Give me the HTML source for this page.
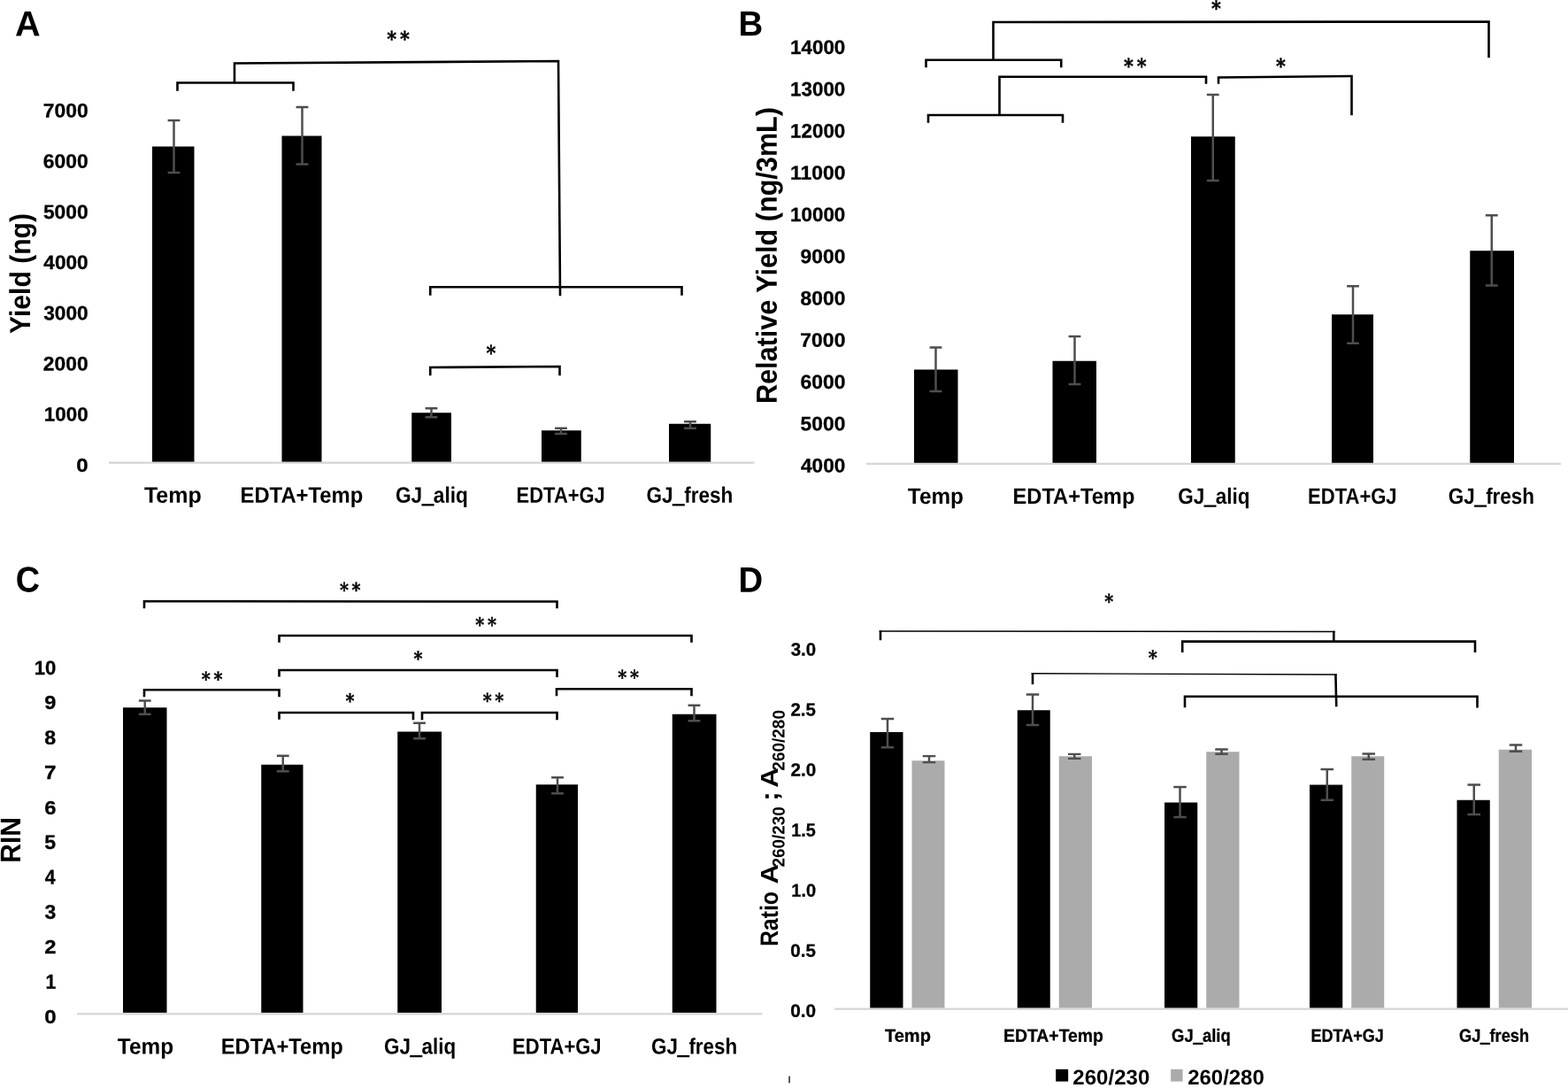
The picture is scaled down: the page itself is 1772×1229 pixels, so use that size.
<!DOCTYPE html>
<html lang="en">
<head>
<meta charset="utf-8">
<title>Figure: RNA yield, relative yield, RIN and absorbance ratios</title>
<style>
html,body{margin:0;padding:0;background:#fff}
body{width:1772px;height:1229px;overflow:hidden}
svg{display:block}
text{fill:#000;white-space:pre}
.b{font-family:"Liberation Sans",sans-serif;font-weight:bold}
.u{stroke:#000;stroke-width:1.3}
.d{font-family:"Liberation Sans",sans-serif;font-weight:bold;stroke:#000;stroke-width:0.3;stroke-linejoin:round}
.s{font-family:"DejaVu Serif","DejaVu Sans",serif;font-weight:bold;stroke:#000;stroke-width:0.45;stroke-linejoin:round}
.k{fill:none;stroke:#000;stroke-width:2.6;stroke-linejoin:miter;stroke-linecap:butt}
.kt{fill:none;stroke:#000;stroke-width:1.4;stroke-linejoin:miter;stroke-linecap:butt}
.e{fill:none;stroke:#4e4e4e;stroke-width:2.3;stroke-linecap:butt}
.v{fill:none;stroke:#4e4e4e;stroke-width:2.5;stroke-linecap:butt}
</style>
</head>
<body>
<svg width="1772" height="1229" viewBox="0 0 1772 1229" role="img" aria-label="Four-panel bar chart figure">
<rect width="1772" height="1229" fill="#fff"/>
<g id="bars">
<rect x="123" y="521.55" width="729.5" height="2.3" fill="#d6d6d6"/>
<rect x="172" y="165.5" width="47.5" height="356.1" fill="#000"/>
<rect x="318.5" y="153.5" width="45" height="368.1" fill="#000"/>
<rect x="465.25" y="466.25" width="44.75" height="55.35" fill="#000"/>
<rect x="612" y="486.25" width="44.75" height="35.35" fill="#000"/>
<rect x="756" y="478.75" width="47.25" height="42.85" fill="#000"/>
<rect x="979" y="522.75" width="785" height="2.3" fill="#d6d6d6"/>
<rect x="1033" y="417.5" width="49.5" height="105.3" fill="#000"/>
<rect x="1189.5" y="407.75" width="49.5" height="115.05" fill="#000"/>
<rect x="1346" y="154.25" width="49.75" height="368.55" fill="#000"/>
<rect x="1505" y="355.25" width="47" height="167.55" fill="#000"/>
<rect x="1661.25" y="283.25" width="49.75" height="239.55" fill="#000"/>
<rect x="87" y="1144.15" width="774.5" height="2.3" fill="#d6d6d6"/>
<rect x="139" y="799.25" width="49.5" height="344.65" fill="#000"/>
<rect x="295.25" y="863.75" width="47.25" height="280.15" fill="#000"/>
<rect x="449.25" y="826.5" width="49.75" height="317.4" fill="#000"/>
<rect x="605.75" y="886.25" width="47.25" height="257.65" fill="#000"/>
<rect x="759.75" y="806.75" width="49.75" height="337.15" fill="#000"/>
<rect x="943" y="1138.55" width="829" height="2.3" fill="#d6d6d6"/>
<rect x="983.25" y="827" width="37.25" height="311.5" fill="#000"/>
<rect x="1030.5" y="859.25" width="37" height="279.25" fill="#ababab"/>
<rect x="1149.75" y="802.25" width="37" height="336.25" fill="#000"/>
<rect x="1196.75" y="854.25" width="37.25" height="284.25" fill="#ababab"/>
<rect x="1316" y="906.5" width="37.25" height="232" fill="#000"/>
<rect x="1363.25" y="849.25" width="37.25" height="289.25" fill="#ababab"/>
<rect x="1480" y="886.5" width="37.25" height="252" fill="#000"/>
<rect x="1527.25" y="854.25" width="37" height="284.25" fill="#ababab"/>
<rect x="1646.5" y="903.75" width="37.25" height="234.75" fill="#000"/>
<rect x="1693.75" y="846.75" width="37.25" height="291.75" fill="#ababab"/>
<rect x="1193.2" y="1207.8" width="13.95" height="13.8" fill="#000"/>
<rect x="1323.1" y="1207.8" width="13.5" height="13.8" fill="#ababab"/>
<rect x="891.4" y="1215.6" width="1.3" height="7.8" fill="#000"/>
</g>
<g id="marks">
<path class="e" d="M189.6 136H203.4M189.6 195H203.4"/><path class="v" d="M196.5 136V195"/>
<path class="e" d="M334.6 121H348.4M334.6 185.5H348.4"/><path class="v" d="M341.5 121V185.5"/>
<path class="e" d="M480.6 461.25H494.4M480.6 471.25H494.4"/><path class="v" d="M487.5 461.25V471.25"/>
<path class="e" d="M627.1 483.75H640.9M627.1 490H640.9"/><path class="v" d="M634 483.75V490"/>
<path class="e" d="M773.1 476.25H786.9M773.1 483.75H786.9"/><path class="v" d="M780 476.25V483.75"/>
<path class="k" d="M200.5 102.7L200.5 93.5L331.5 93.5L331.5 102.7"/>
<path class="k" d="M265 94.2L265 71.5L631 69L633.01 334.2"/>
<path class="k" d="M486.25 333.7L486.25 324.25L770.5 324.25L770.5 333.7"/>
<path class="k" d="M486.25 424.2L486.25 415L632.5 414L632.5 424.2"/>
<path class="e" d="M1050.6 392.5H1064.4M1050.6 442H1064.4"/><path class="v" d="M1057.5 392.5V442"/>
<path class="e" d="M1207.6 380H1221.4M1207.6 434H1221.4"/><path class="v" d="M1214.5 380V434"/>
<path class="e" d="M1363.85 107H1377.65M1363.85 204H1377.65"/><path class="v" d="M1370.75 107V204"/>
<path class="e" d="M1522.1 323.25H1535.9M1522.1 387.75H1535.9"/><path class="v" d="M1529 323.25V387.75"/>
<path class="e" d="M1678.85 243.25H1692.65M1678.85 322.5H1692.65"/><path class="v" d="M1685.75 243.25V322.5"/>
<path class="k" d="M1046.5 76.2L1046.5 67.75L1199.25 67.75L1199.25 76.2"/>
<path class="k" d="M1122.5 68.45L1122.5 25L1682.5 24.5L1682.5 65.2"/>
<path class="k" d="M1049 138.7L1049 130L1201 130L1201 138.7"/>
<path class="k" d="M1129.5 130.7L1129.5 86.75L1363 86.75L1363 94.7"/>
<path class="k" d="M1377 94.7L1377 87.5L1527.5 86L1527.5 130.2"/>
<path class="e" d="M156.85 791.5H170.65M156.85 806.75H170.65"/><path class="v" d="M163.75 791.5V806.75"/>
<path class="e" d="M312.85 853.75H326.65M312.85 871.25H326.65"/><path class="v" d="M319.75 853.75V871.25"/>
<path class="e" d="M467.1 816.75H480.9M467.1 834.25H480.9"/><path class="v" d="M474 816.75V834.25"/>
<path class="e" d="M623.1 878.25H636.9M623.1 896.25H636.9"/><path class="v" d="M630 878.25V896.25"/>
<path class="e" d="M777.6 796.75H791.4M777.6 814.25H791.4"/><path class="v" d="M784.5 796.75V814.25"/>
<path class="k" d="M163 687.2L163 679.25L629.5 679.5L629.5 687.2"/>
<path class="k" d="M315.5 725.7L315.5 718L781.5 718L781.5 725.7"/>
<path class="k" d="M315.5 764.45L315.5 757L629.5 757L629.5 764.95"/>
<path class="k" d="M163 787.2L163 779.25L315.5 779.25L315.5 787.2"/>
<path class="k" d="M315.5 812.7L315.5 805L467 805L467 813.2"/>
<path class="k" d="M477 813.2L477 805L629.5 805L629.5 813.2"/>
<path class="k" d="M629 786.2L629 778.25L781.5 778.25L781.5 786.2"/>
<path class="e" d="M995.75 812H1010.25M995.75 844.25H1010.25"/><path class="v" d="M1003 812V844.25"/>
<path class="e" d="M1042.75 854.2H1057.25M1042.75 861.1H1057.25"/><path class="v" d="M1050 854.2V861.1"/>
<path class="e" d="M1159.75 784.5H1174.25M1159.75 819H1174.25"/><path class="v" d="M1167 784.5V819"/>
<path class="e" d="M1207 851.9H1221.5M1207 856.9H1221.5"/><path class="v" d="M1214.25 851.9V856.9"/>
<path class="e" d="M1326.25 889H1340.75M1326.25 923H1340.75"/><path class="v" d="M1333.5 889V923"/>
<path class="e" d="M1373.25 846.5H1387.75M1373.25 851.75H1387.75"/><path class="v" d="M1380.5 846.5V851.75"/>
<path class="e" d="M1492.5 869H1507M1492.5 903.75H1507"/><path class="v" d="M1499.75 869V903.75"/>
<path class="e" d="M1539.5 851.5H1554M1539.5 857.75H1554"/><path class="v" d="M1546.75 851.5V857.75"/>
<path class="e" d="M1658.5 886.5H1673M1658.5 920H1673"/><path class="v" d="M1665.75 886.5V920"/>
<path class="e" d="M1705.75 841.5H1720.25M1705.75 848.75H1720.25"/><path class="v" d="M1713 841.5V848.75"/>
<path class="k" d="M995 723.2L995 712.3"/>
<path class="kt" d="M993.7 713L1508.6 713.5"/>
<path class="k" d="M1507.3 712.8L1507.3 725"/>
<path class="k" d="M1336.2 737L1336.2 724.6L1667 724.6L1667 736.95"/>
<path class="k" d="M1167 773.1L1167 760.1"/>
<path class="kt" d="M1165.7 760.8L1510.7 762"/>
<path class="k" d="M1509.38 761.3L1510.27 798.2"/>
<path class="k" d="M1339 799.2L1339 786.7L1669.5 786.7L1669.5 799.45"/>
</g>
<g id="labels">
<text class="b" font-size="39.85" transform="matrix(0.9962 0.0005 0 1 17.11 40.4)">A</text>
<text class="d" font-size="22.33" transform="matrix(1.0274 0.0005 0 1 48.67 132.58)">7000</text>
<text class="d" font-size="22.33" transform="matrix(1.0250 0.0005 0 1 48.79 189.75)">6000</text>
<text class="d" font-size="22.33" transform="matrix(1.0226 0.0005 0 1 48.91 246.92)">5000</text>
<text class="d" font-size="22.33" transform="matrix(1.0144 0.0005 0 1 49.31 304.09)">4000</text>
<text class="d" font-size="22.33" transform="matrix(1.0179 0.0005 0 1 49.14 361.26)">3000</text>
<text class="d" font-size="22.33" transform="matrix(1.0238 0.0005 0 1 48.85 418.43)">2000</text>
<text class="d" font-size="22.33" transform="matrix(1.0033 0.0005 0 1 49.85 475.61)">1000</text>
<text class="d" font-size="22.33" transform="matrix(1.0794 0.0005 0 1 86.34 532.78)">0</text>
<text class="b" font-size="25.22" transform="matrix(0.9920 0.0005 0 1 162.95 567.7)">Temp</text>
<text class="b" font-size="25.22" transform="matrix(0.9458 0.0005 0 1 271.49 567.7)">EDTA+Temp</text>
<text class="b" font-size="25.22" transform="matrix(0.9006 0.0005 0 1 446.89 567.7)">GJ<tspan class="u">_</tspan>aliq</text>
<text class="b" font-size="25.22" transform="matrix(0.8710 0.0005 0 1 583.62 567.7)">EDTA+GJ</text>
<text class="b" font-size="25.22" transform="matrix(0.8948 0.0005 0 1 730.5 567.7)">GJ<tspan class="u">_</tspan>fresh</text>
<text class="b" font-size="32.75" transform="matrix(0.0005 -0.9200 1 0 34.1 377.03)">Yield (ng)</text>
<text class="s" font-size="23.12" transform="matrix(0.9014 0.0005 0 1 437.26 52.04)">*</text>
<text class="s" font-size="23.12" transform="matrix(0.9014 0.0005 0 1 452.06 52.04)">*</text>
<text class="s" font-size="23.12" transform="matrix(0.9014 0.0005 0 1 549.56 406.79)">*</text>
<text class="b" font-size="39.56" transform="matrix(0.9717 0.0005 0 1 834.56 40.2)">B</text>
<text class="d" font-size="22.33" transform="matrix(1.0043 0.0005 0 1 893 61.08)">14000</text>
<text class="d" font-size="22.33" transform="matrix(1.0043 0.0005 0 1 893 108.33)">13000</text>
<text class="d" font-size="22.33" transform="matrix(1.0043 0.0005 0 1 893 155.58)">12000</text>
<text class="d" font-size="22.33" transform="matrix(1.0253 0.0005 0 1 892.97 202.83)">11000</text>
<text class="d" font-size="22.33" transform="matrix(1.0043 0.0005 0 1 893 250.08)">10000</text>
<text class="d" font-size="22.33" transform="matrix(1.0238 0.0005 0 1 904.55 297.33)">9000</text>
<text class="d" font-size="22.33" transform="matrix(1.0226 0.0005 0 1 904.61 344.58)">8000</text>
<text class="d" font-size="22.33" transform="matrix(1.0274 0.0005 0 1 904.37 391.83)">7000</text>
<text class="d" font-size="22.33" transform="matrix(1.0250 0.0005 0 1 904.49 439.08)">6000</text>
<text class="d" font-size="22.33" transform="matrix(1.0226 0.0005 0 1 904.61 486.33)">5000</text>
<text class="d" font-size="22.33" transform="matrix(1.0144 0.0005 0 1 905.01 533.58)">4000</text>
<text class="b" font-size="25.22" transform="matrix(0.9639 0.0005 0 1 1025.86 569)">Temp</text>
<text class="b" font-size="25.22" transform="matrix(0.9388 0.0005 0 1 1144.5 569)">EDTA+Temp</text>
<text class="b" font-size="25.22" transform="matrix(0.8915 0.0005 0 1 1331.2 569)">GJ<tspan class="u">_</tspan>aliq</text>
<text class="b" font-size="25.22" transform="matrix(0.8732 0.0005 0 1 1478.11 569)">EDTA+GJ</text>
<text class="b" font-size="25.22" transform="matrix(0.8905 0.0005 0 1 1636.7 569)">GJ<tspan class="u">_</tspan>fresh</text>
<text class="b" font-size="32.9" transform="matrix(0.0005 -0.9307 1 0 877.7 456.07)">Relative Yield (ng/3mL)</text>
<text class="s" font-size="23.12" transform="matrix(0.9014 0.0005 0 1 1369.06 17.49)">*</text>
<text class="s" font-size="23.12" transform="matrix(0.9014 0.0005 0 1 1269.91 82.79)">*</text>
<text class="s" font-size="23.12" transform="matrix(0.9014 0.0005 0 1 1284.71 82.79)">*</text>
<text class="s" font-size="23.12" transform="matrix(0.9014 0.0005 0 1 1442.06 82.79)">*</text>
<text class="b" font-size="40.57" transform="matrix(0.9334 0.0005 0 1 17.69 668.39)">C</text>
<text class="d" font-size="22.33" transform="matrix(0.9931 0.0005 0 1 38.76 761.98)">10</text>
<text class="d" font-size="22.33" transform="matrix(1.0571 0.0005 0 1 50.27 801.37)">9</text>
<text class="d" font-size="22.33" transform="matrix(1.0410 0.0005 0 1 50.34 840.76)">8</text>
<text class="d" font-size="22.98" transform="matrix(1.0600 0.0005 0 1 50.06 880.37)">7</text>
<text class="d" font-size="22.33" transform="matrix(1.0626 0.0005 0 1 50.21 919.54)">6</text>
<text class="d" font-size="22.65" transform="matrix(1.0211 0.0005 0 1 50.35 958.92)">5</text>
<text class="d" font-size="22.98" transform="matrix(0.9313 0.0005 0 1 50.78 998.54)">4</text>
<text class="d" font-size="22.33" transform="matrix(1.0306 0.0005 0 1 50.58 1037.71)">3</text>
<text class="d" font-size="22.65" transform="matrix(1.0531 0.0005 0 1 50.27 1077.32)">2</text>
<text class="d" font-size="22.98" transform="matrix(0.9217 0.0005 0 1 51.38 1116.71)">1</text>
<text class="d" font-size="22.33" transform="matrix(1.0794 0.0005 0 1 50.14 1155.88)">0</text>
<text class="b" font-size="25.22" transform="matrix(0.9670 0.0005 0 1 132.86 1190.4)">Temp</text>
<text class="b" font-size="25.22" transform="matrix(0.9406 0.0005 0 1 249.75 1190.4)">EDTA+Temp</text>
<text class="b" font-size="25.22" transform="matrix(0.8915 0.0005 0 1 433.95 1190.4)">GJ<tspan class="u">_</tspan>aliq</text>
<text class="b" font-size="25.22" transform="matrix(0.8732 0.0005 0 1 579.11 1190.4)">EDTA+GJ</text>
<text class="b" font-size="25.22" transform="matrix(0.8905 0.0005 0 1 735.95 1190.4)">GJ<tspan class="u">_</tspan>fresh</text>
<text class="b" font-size="32.25" transform="matrix(0.0005 -0.9338 1 0 22.9 974.83)">RIN</text>
<text class="s" font-size="21.83" transform="matrix(0.8779 0.0005 0 1 383.94 673.88)">*</text>
<text class="s" font-size="21.83" transform="matrix(0.8779 0.0005 0 1 397.54 673.88)">*</text>
<text class="s" font-size="21.83" transform="matrix(0.8779 0.0005 0 1 537.32 713.26)">*</text>
<text class="s" font-size="21.83" transform="matrix(0.8779 0.0005 0 1 550.92 713.26)">*</text>
<text class="s" font-size="21.83" transform="matrix(0.8779 0.0005 0 1 467.49 751.38)">*</text>
<text class="s" font-size="21.83" transform="matrix(0.8779 0.0005 0 1 227.82 774.76)">*</text>
<text class="s" font-size="21.83" transform="matrix(0.8779 0.0005 0 1 241.42 774.76)">*</text>
<text class="s" font-size="21.83" transform="matrix(0.8779 0.0005 0 1 390.49 799.26)">*</text>
<text class="s" font-size="21.83" transform="matrix(0.8779 0.0005 0 1 545.69 799.01)">*</text>
<text class="s" font-size="21.83" transform="matrix(0.8779 0.0005 0 1 559.29 799.01)">*</text>
<text class="s" font-size="21.83" transform="matrix(0.8779 0.0005 0 1 698.32 772.76)">*</text>
<text class="s" font-size="21.83" transform="matrix(0.8779 0.0005 0 1 711.92 772.76)">*</text>
<text class="b" font-size="40.29" transform="matrix(0.9502 0.0005 0 1 834.57 668.7)">D</text>
<text class="d" font-size="20.49" transform="matrix(0.9998 0.0005 0 1 893.69 740.55)">3.0</text>
<text class="d" font-size="20.49" transform="matrix(0.9998 0.0005 0 1 893.43 808.58)">2.5</text>
<text class="d" font-size="20.49" transform="matrix(1.0093 0.0005 0 1 893.43 876.61)">2.0</text>
<text class="d" font-size="20.79" transform="matrix(0.9547 0.0005 0 1 894.31 944.64)">1.5</text>
<text class="d" font-size="20.49" transform="matrix(0.9778 0.0005 0 1 894.3 1012.68)">1.0</text>
<text class="d" font-size="20.49" transform="matrix(1.0035 0.0005 0 1 893.33 1080.71)">0.5</text>
<text class="d" font-size="20.49" transform="matrix(1.0131 0.0005 0 1 893.32 1148.75)">0.0</text>
<text class="d" font-size="20.43" transform="matrix(0.9816 0.0005 0 1 999.9 1176.8)">Temp</text>
<text class="d" font-size="20.43" transform="matrix(0.9496 0.0005 0 1 1133.99 1176.8)">EDTA+Temp</text>
<text class="d" font-size="20.43" transform="matrix(0.9026 0.0005 0 1 1324.06 1176.8)">GJ<tspan class="u">_</tspan>aliq</text>
<text class="d" font-size="20.43" transform="matrix(0.8826 0.0005 0 1 1481.58 1176.8)">EDTA+GJ</text>
<text class="d" font-size="20.43" transform="matrix(0.8920 0.0005 0 1 1649.07 1176.8)">GJ<tspan class="u">_</tspan>fresh</text>
<text class="b" font-size="23.71" transform="matrix(1.0144 0.0005 0 1 1212.36 1225)">260/230</text>
<text class="b" font-size="23.71" transform="matrix(1.0109 0.0005 0 1 1342.16 1225)">260/280</text>
<text class="b" font-size="28.26" transform="matrix(0.0005 -0.8785 1 0 879 1069.08)">Ratio</text>
<text class="b" font-size="28.26" transform="matrix(0.0005 -1.0985 1 0 879 998.58)">A</text>
<text class="b" font-size="19.43" transform="matrix(0.0005 -0.9719 1 0 886.6 979.46)">260/230</text>
<text class="b" font-size="28.26" transform="matrix(0.0005 -1.1671 1 0 879 905.03)">;</text>
<text class="b" font-size="28.26" transform="matrix(0.0005 -1.1091 1 0 879 889.78)">A</text>
<text class="b" font-size="19.43" transform="matrix(0.0005 -0.9778 1 0 886.6 870.66)">260/280</text>
<text class="s" font-size="21.83" transform="matrix(0.8779 0.0005 0 1 1248.19 687.08)">*</text>
<text class="s" font-size="21.83" transform="matrix(0.8779 0.0005 0 1 1297.84 750.38)">*</text>
</g>
</svg>
</body>
</html>
